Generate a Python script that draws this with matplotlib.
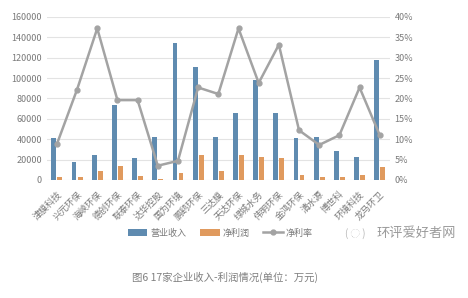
import numpy as np
import matplotlib
matplotlib.use('Agg')
import matplotlib.pyplot as plt
from matplotlib.ticker import FuncFormatter

plt.rcParams['font.family'] = ['Noto Sans CJK SC', 'DejaVu Sans']

# 17家企业
companies = ['津膜科技', '兴元环保', '海峡环保', '德创环保', '联泰环保', '达华控股',
             '国为环境', '鹏鹞环保', '三达膜', '天达环保', '绿城水务', '伟明环保',
             '金鸿环保', '清水源', '博世科', '环境科技', '龙马环卫']
revenue = [41000, 18000, 24500, 74000, 21500, 42000, 134000, 111000, 42000,
           65500, 98000, 65500, 41000, 42500, 28000, 23000, 118000]
profit = [3300, 3300, 9000, 14000, 4200, 1000, 6500, 25000, 8800,
          24500, 23000, 22000, 5000, 3300, 2600, 5000, 13000]
margin = [0.088, 0.222, 0.372, 0.196, 0.196, 0.035, 0.047, 0.227, 0.211,
          0.372, 0.238, 0.332, 0.122, 0.086, 0.11, 0.227, 0.11]

c_rev = '#5f8bb0'
c_pro = '#e09a5e'
c_mar = '#a3a3a3'
txt = '#7a7a7a'

fig = plt.figure(figsize=(4.68, 2.98), dpi=100)
ax = fig.add_axes([0.100, 0.396, 0.733, 0.547])
ax2 = ax.twinx()

x = np.arange(len(companies))
w = 0.24
ax.bar(x - 0.15, revenue, w, color=c_rev, label='营业收入', zorder=2)
ax.bar(x + 0.15, profit, w, color=c_pro, label='净利润', zorder=2)
ax2.plot(x, margin, color=c_mar, lw=1.8, marker='o', ms=3.5, label='净利率', zorder=3)

ax.set_xlim(-0.5, len(companies) - 0.5)
ax.set_ylim(0, 160000)
ax.set_yticks(np.arange(0, 160001, 20000))
ax2.set_ylim(0, 0.40)
ax2.set_yticks(np.arange(0, 0.401, 0.05))
ax2.yaxis.set_major_formatter(FuncFormatter(lambda v, p: f'{v*100:.0f}%'))

ax.grid(axis='y', color='#e3e3e3', lw=0.8, zorder=0)
ax.set_xticks(x)
ax.set_xticklabels(companies, rotation=45, ha='right', rotation_mode='anchor',
                   fontsize=6.5, color=txt)
for a in (ax, ax2):
    for s in a.spines.values():
        s.set_visible(False)
    a.tick_params(length=0, labelsize=6.5, labelcolor=txt)
ax.tick_params(axis='x', pad=7)

h1, l1 = ax.get_legend_handles_labels()
h2, l2 = ax2.get_legend_handles_labels()
fig.legend(h1 + h2, l1 + l2, loc='center', bbox_to_anchor=(0.47, 0.218), ncol=3,
           frameon=False, fontsize=6.5, labelcolor=txt, handlelength=2.2,
           handletextpad=0.3, columnspacing=1.5)

fig.text(0.76, 0.218, '( ◌ )', fontsize=7, color='#b8b8b8', ha='center', va='center')
fig.text(0.975, 0.218, '环评爱好者网', fontsize=9.5, color='#9a9a9a', ha='right', va='center')
fig.text(0.48, 0.07, '图6 17家企业收入-利润情况(单位：万元)', fontsize=7.5, color='#808080',
         ha='center', va='center')

fig.savefig('out.png', dpi=100)
